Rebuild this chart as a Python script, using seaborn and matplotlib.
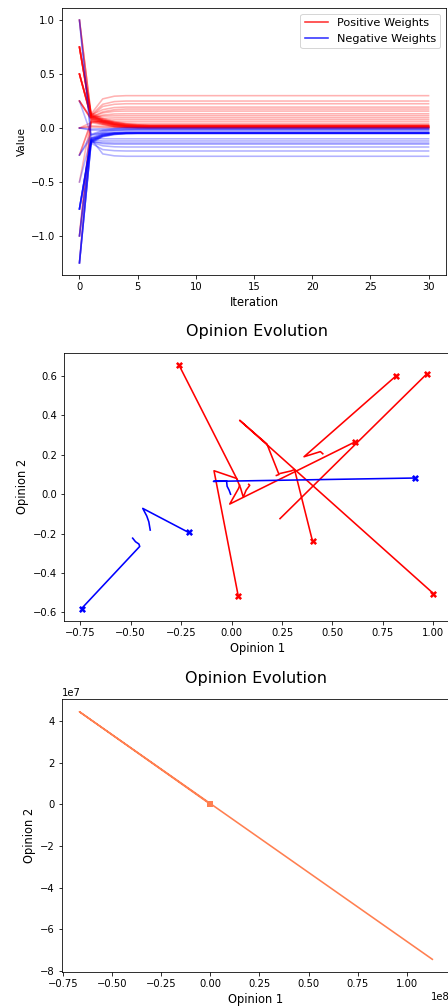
import matplotlib
matplotlib.use("Agg")
import matplotlib.pyplot as plt
from matplotlib.lines import Line2D
import pandas as pd
import seaborn as sns

# ---------------- Panel 1: weight trajectories ----------------
n_iterations = 31
pos_heads = [
    [1.0, 0.13, 0.27, 0.295],
    [0.75, 0.12, 0.22, 0.245],
    [0.75, 0.11, 0.20, 0.22],
    [0.5, 0.12, 0.17, 0.19],
    [0.75, 0.10, 0.15, 0.17],
    [0.5, 0.10, 0.14, 0.155],
    [0.25, 0.09, 0.12, 0.13],
    [0.5, 0.10, 0.11, 0.113],
    [0.25, 0.08, 0.09, 0.094],
    [0.0, 0.05, 0.07, 0.076],
    [-0.25, 0.06, 0.058, 0.059],
    [1.0, 0.11, 0.07, 0.05, 0.043],
    [0.75, 0.12, 0.07, 0.045, 0.033, 0.03],
    [0.5, 0.10, 0.06, 0.035, 0.025, 0.021],
    [-1.0, 0.08, 0.05, 0.03, 0.02, 0.017],
    [0.25, 0.09, 0.05, 0.025, 0.015, 0.013],
    [0.0, 0.02, 0.015, 0.012],
    [-0.5, 0.07, 0.04, 0.02, 0.012, 0.009],
    [-1.25, 0.06, 0.035, 0.015, 0.008, 0.006],
    [0.0, 0.01, 0.006, 0.005],
    [-0.25, 0.05, 0.03, 0.012, 0.005, 0.003],
    [-1.0, 0.07, 0.04, 0.015, 0.005, 0.001],
    [0.75, 0.13, 0.08, 0.05, 0.03, 0.02],
    [0.75, 0.11, 0.07, 0.04, 0.025, 0.015],
    [0.5, 0.12, 0.07, 0.04, 0.02, 0.01],
    [0.5, 0.09, 0.05, 0.03, 0.015, 0.008],
    [0.75, 0.10, 0.06, 0.03, 0.015, 0.005],
    [0.5, 0.11, 0.06, 0.035, 0.02, 0.012],
    [1.0, 0.12, 0.08, 0.05, 0.035, 0.025],
    [0.25, 0.08, 0.05, 0.03, 0.02, 0.018],
    [0.75, 0.14, 0.09, 0.06, 0.04, 0.03],
    [0.5, 0.10, 0.06, 0.04, 0.03, 0.025],
]
pos_final = [0.30, 0.25, 0.225, 0.194, 0.176, 0.157, 0.132, 0.114, 0.095, 0.077,
             0.059, 0.040, 0.028, 0.020, 0.016, 0.012, 0.010, 0.008, 0.005, 0.004,
             0.002, 0.0, 0.018, 0.012, 0.008, 0.005, 0.003, 0.010, 0.022, 0.015,
             0.026, 0.022]

neg_heads = [
    [1.0, -0.10, -0.24, -0.258],
    [-1.25, -0.14, -0.20, -0.21],
    [-0.75, -0.13, -0.165, -0.174],
    [-1.25, -0.12, -0.145, -0.15],
    [-0.75, -0.13, -0.135, -0.139],
    [-1.0, -0.11, -0.12, -0.12],
    [-0.25, -0.09, -0.10, -0.10],
    [-0.75, -0.12, -0.07, -0.055, -0.05],
    [-1.25, -0.13, -0.08, -0.06, -0.052],
    [0.25, -0.06, -0.05, -0.046],
    [-0.75, -0.11, -0.06, -0.045],
    [-1.0, -0.10, -0.05, -0.04, -0.035],
    [0.0, -0.02, -0.02],
    [-0.5, -0.09, -0.04, -0.025, -0.018],
    [1.0, -0.07, -0.03, -0.015],
    [0.0, -0.01, -0.006],
    [-0.25, -0.06, -0.02, -0.005],
    [-0.75, -0.12, -0.07, -0.055, -0.05],
    [-1.25, -0.13, -0.075, -0.055, -0.05],
    [-0.75, -0.10, -0.06, -0.05, -0.048],
    [-1.25, -0.14, -0.08, -0.06, -0.051],
    [-0.75, -0.11, -0.06, -0.048, -0.047],
    [-1.0, -0.12, -0.07, -0.05, -0.045],
]
neg_final = [-0.262, -0.213, -0.176, -0.15, -0.139, -0.12, -0.10, -0.05, -0.049,
             -0.045, -0.04, -0.034, -0.02, -0.015, -0.01, -0.005, 0.003, -0.05,
             -0.048, -0.047, -0.05, -0.046, -0.044]

# ---------------- Panel 2: opinion trajectories ----------------
red_opinion1 = [
    [-0.261, 0.025, 0.045, 0.058, 0.072, 0.09, 0.085],
    [0.817, 0.359, 0.44, 0.452],
    [0.966, 0.24],
    [0.613, -0.009, 0.035, 0.04],
    [0.401, 0.312, 0.295, 0.24],
    [0.033, -0.087, 0.025, 0.03],
    [1.0, 0.04, 0.175, 0.235, 0.222],
]
red_opinion2 = [
    [0.656, 0.08, 0.03, -0.015, 0.02, 0.045, 0.05],
    [0.602, 0.19, 0.216, 0.205],
    [0.609, -0.124],
    [0.266, -0.05, 0.03, 0.045],
    [-0.238, 0.125, 0.118, 0.105],
    [-0.516, 0.119, 0.08, 0.07],
    [-0.504, 0.375, 0.255, 0.10, 0.095],
]
blue_opinion1 = [
    [0.907, -0.09, -0.025, -0.022, -0.012, -0.005],
    [-0.213, -0.44, -0.42, -0.41, -0.403],
    [-0.743, -0.455, -0.459, -0.476, -0.49],
]
blue_opinion2 = [
    [0.082, 0.065, 0.068, 0.04, 0.02, 0.0],
    [-0.194, -0.072, -0.111, -0.14, -0.182],
    [-0.58, -0.265, -0.253, -0.241, -0.223],
]

# ---------------- Panel 3: diverging opinions ----------------
div_opinion1 = [0.0, -0.668e8, 1.131e8]
div_opinion2 = [0.0, 4.446e7, -7.44e7]

plt.rcParams['font.family'] = ['DejaVu Sans']
W, H = 448, 1006
fig = plt.figure(figsize=(W / 72, H / 72), dpi=72)


def ax_at(left, right, top, bottom):
    return fig.add_axes([left / W, 1 - bottom / H, (right - left) / W, (bottom - top) / H])


LABEL_FS = 11.5

# ---- Panel 1
ax1 = ax_at(62, 446, 8, 275)
rows = []
for i, (head, fin) in enumerate(zip(pos_heads, pos_final)):
    vals = head + [fin] * (n_iterations - len(head))
    for it, v in enumerate(vals):
        rows.append(dict(iteration=it, value=v, line=f"p{i}", sign="Positive Weights"))
for i, (head, fin) in enumerate(zip(neg_heads, neg_final)):
    vals = head + [fin] * (n_iterations - len(head))
    for it, v in enumerate(vals):
        rows.append(dict(iteration=it, value=v, line=f"n{i}", sign="Negative Weights"))
df1 = pd.DataFrame(rows)
sns.lineplot(data=df1, x="iteration", y="value", hue="sign", units="line",
             estimator=None, palette={"Positive Weights": "red", "Negative Weights": "blue"},
             alpha=0.3, linewidth=1.6, legend=False, ax=ax1)
ax1.set_xlabel("Iteration", fontsize=LABEL_FS)
ax1.set_ylabel("Value", fontsize=10.5)
handles = [Line2D([], [], color="red", alpha=0.8, lw=1.6),
           Line2D([], [], color="blue", alpha=0.8, lw=1.6)]
ax1.legend(handles, ["Positive Weights", "Negative Weights"], loc="upper right",
           fontsize=11.3)

# ---- Panel 2
ax2 = ax_at(64, 451, 352.7, 620.7)
for color, xs_all, ys_all in [("red", red_opinion1, red_opinion2),
                              ("blue", blue_opinion1, blue_opinion2)]:
    for xs, ys in zip(xs_all, ys_all):
        d = pd.DataFrame({"o1": xs, "o2": ys})
        sns.lineplot(data=d, x="o1", y="o2", sort=False, estimator=None,
                     color=color, linewidth=1.6, ax=ax2)
        sns.scatterplot(x=[xs[0]], y=[ys[0]], marker="X", s=50, color=color,
                        linewidth=0, ax=ax2)
ax2.set_title("Opinion Evolution", fontsize=16, pad=17)
ax2.set_xlabel("Opinion 1", fontsize=LABEL_FS)
ax2.set_ylabel("Opinion 2", fontsize=LABEL_FS)

# ---- Panel 3
ax3 = ax_at(61.7, 450, 699.3, 971.7)
d3 = pd.DataFrame({"o1": div_opinion1, "o2": div_opinion2})
sns.lineplot(data=d3, x="o1", y="o2", sort=False, estimator=None,
             color="coral", linewidth=1.6, ax=ax3)
sns.scatterplot(x=[div_opinion1[0]], y=[div_opinion2[0]], marker="s", s=45,
                color="coral", linewidth=0, ax=ax3)
ax3.set_title("Opinion Evolution", fontsize=16, pad=16)
ax3.set_xlabel("Opinion 1", fontsize=LABEL_FS)
ax3.set_ylabel("Opinion 2", fontsize=LABEL_FS)

fig.savefig("out.png", dpi=72)
